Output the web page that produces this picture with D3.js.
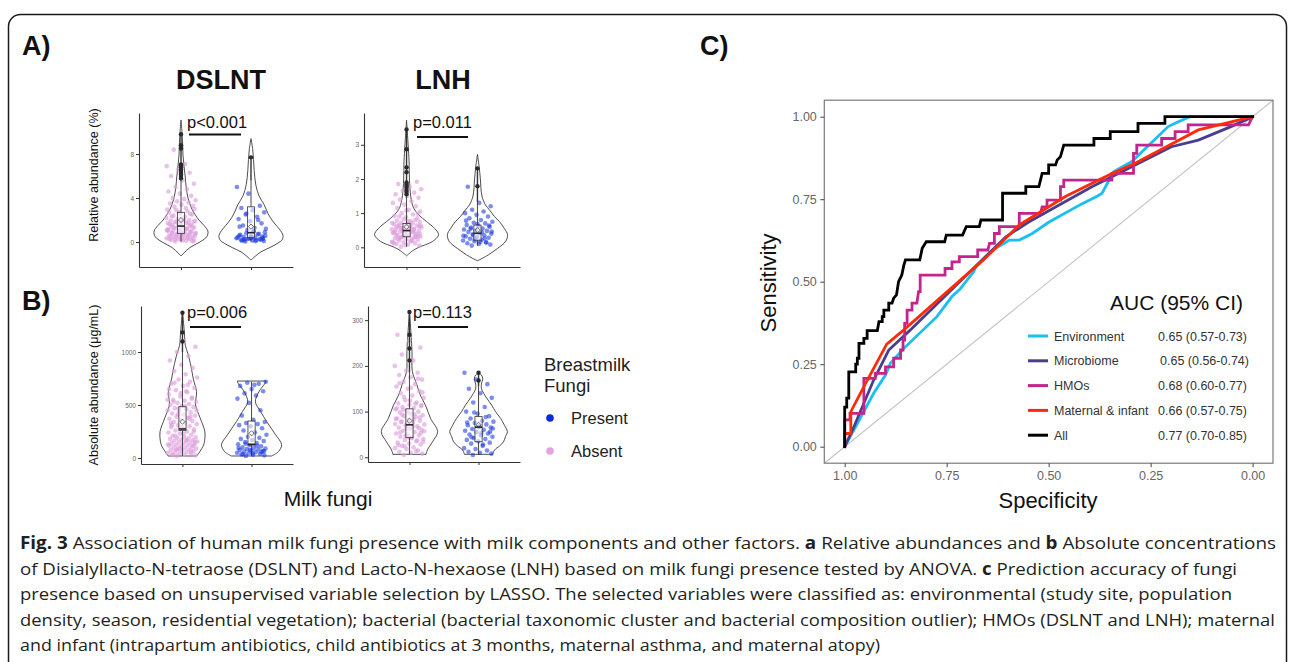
<!DOCTYPE html>
<html><head><meta charset="utf-8">
<script src="https://cdn.jsdelivr.net/npm/d3@7"></script>
<style>body{margin:0;background:#fff}svg{display:block}</style>
</head><body>
<svg id="c" width="1290" height="662"></svg>
<script>
// ---------------- DATA ----------------
const categories = ["Absent","Present"];
const pValues = ["p<0.001","p=0.011","p=0.006","p=0.113"];
const compoundTitles = ["DSLNT","LNH"];

// Relative abundance DSLNT (%)
const relDSLNTTicks = [0,4,8];
const relDSLNTAbsent = [0.05,0.1,0.15,0.2,0.25,0.3,0.35,0.4,0.45,0.5,0.55,0.6,0.65,0.7,0.75,0.8,0.85,0.9,0.95,1.0,
0.12,0.22,0.32,0.42,0.52,0.62,0.72,0.82,0.92,1.02,1.05,1.1,1.15,1.2,1.25,1.3,1.35,1.4,1.45,1.5,
1.12,1.22,1.32,1.42,1.52,1.62,1.72,1.82,1.92,2.02,1.55,1.6,1.65,1.7,1.75,1.8,1.85,1.9,1.95,2.0,
2.1,2.2,2.3,2.4,2.5,2.6,2.7,2.8,2.9,3.0,2.15,2.35,2.55,2.75,2.95,3.1,3.2,3.3,3.4,3.5,
3.6,3.7,3.8,3.9,4.0,4.2,4.4,4.6,4.8,5.0,5.3,5.6,6.0,6.3,6.6,6.9,7.1,8.4,0.08,0.18,
0.28,0.38,0.48,0.58,0.68,0.78,0.88,0.98,1.08,1.18];
const relDSLNTPresent = [0.05,0.1,0.15,0.2,0.25,0.3,0.35,0.4,0.45,0.5,0.55,0.6,0.7,0.8,0.9,1.0,0.12,0.22,0.32,0.42,
0.18,0.28,0.38,0.48,0.65,0.75,1.1,1.2,1.3,1.5,1.7,1.9,2.1,2.3,2.5,2.7,2.9,3.1,3.3,4.4,
5.0,0.08,0.16,0.26,0.36,1.4,2.0,2.6,0.58,0.95];
const relDSLNTAbsViolinV = [11.1,10,9,8,7,6,5,4,3,2.5,2,1.5,1,0.5,0,-0.5,-1,-1.27];
const relDSLNTAbsViolinD = [0,.03,.05,.06,.09,.13,.16,.22,.34,.44,.56,.72,.84,.81,.59,.28,.09,0];
const relDSLNTPreViolinV = [9.4,8.5,7.5,6.5,5.2,4.2,3.4,2.6,1.85,1.2,0.6,0.2,-0.1,-0.5,-0.9,-1.3,-1.64];
const relDSLNTPreViolinD = [0,.05,.08,.1,.15,.25,.41,.53,.69,.88,1,.97,.84,.59,.31,.13,0];
// box stats: [low whisker, Q1, median, Q3, high whisker, mean]
const relDSLNTAbsBox = [0.05,0.79,1.45,2.7,5.6,2.0];
const relDSLNTPreBox = [0.05,0.39,0.85,3.2,5.6,1.4];
const relDSLNTAbsOut = [9.8,8.8,8.5,7.05,6.95,6.8,6.6,6.45,6.3,6.15,6.0,5.8];
const relDSLNTPreOut = [7.7];

// Relative abundance LNH (%)
const relLNHTicks = [0,1,2,3];
const relLNHAbsent = [0.02,0.05,0.08,0.1,0.12,0.14,0.16,0.18,0.2,0.22,0.24,0.26,0.28,0.3,0.32,0.34,0.36,0.38,0.4,0.42,
0.44,0.46,0.48,0.5,0.52,0.54,0.56,0.58,0.6,0.62,0.64,0.66,0.68,0.7,0.72,0.74,0.76,0.78,0.8,0.82,
0.15,0.21,0.27,0.33,0.39,0.45,0.51,0.57,0.63,0.69,0.25,0.31,0.37,0.43,0.49,0.55,0.61,0.67,0.35,0.41,
0.47,0.53,0.59,0.65,0.85,0.88,0.92,0.96,1.0,1.05,1.1,1.15,1.2,1.25,1.3,1.35,1.4,1.45,1.5,1.55,
1.6,1.65,1.7,1.78,1.85,1.92,0.06,0.11,0.19,0.29,0.4,0.5,0.6,0.3,0.45,0.71,0.77,0.9,0.98,1.08];
const relLNHPresent = [0.05,0.08,0.1,0.12,0.15,0.18,0.2,0.22,0.25,0.28,0.3,0.32,0.35,0.38,0.4,0.42,0.45,0.48,0.5,0.52,
0.55,0.58,0.6,0.62,0.65,0.7,0.72,0.75,0.8,0.85,0.9,0.95,1.0,1.05,1.1,1.2,1.3,1.77,0.14,0.24,
0.34,0.44,0.54,0.64,0.68,0.78,0.26,0.36,0.46,0.16];
const relLNHAbsViolinV = [3.72,3,2.5,2,1.5,1.15,0.95,0.75,0.55,0.37,0.17,0,-0.1,-0.25];
const relLNHAbsViolinD = [0,.05,.08,.09,.13,.22,.38,.63,.88,1,.81,.38,.19,0];
const relLNHPreViolinV = [2.72,2.3,2,1.5,1.24,1.09,0.9,0.75,0.55,0.37,0.17,-0.03,-0.22,-0.32,-0.39];
const relLNHPreViolinD = [0,.06,.09,.14,.25,.38,.53,.69,.84,.94,.88,.63,.34,.16,0];
const relLNHAbsBox = [0.02,0.31,0.49,0.70,1.5,0.6];
const relLNHPreBox = [0.05,0.21,0.41,0.65,1.33,0.5];
const relLNHAbsOut = [3.45,2.87,2.34,2.2,1.9,1.85,1.8,1.75,1.68,1.62,1.55];
const relLNHPreOut = [2.31,1.79];

// Absolute abundance DSLNT (ug/mL)
const absDSLNTTicks = [0,500,1000];
const absDSLNTAbsent = [20,25,30,35,40,45,50,55,60,65,70,75,80,85,90,95,100,105,110,115,
120,125,130,135,140,145,150,155,160,165,170,175,180,185,190,195,200,210,220,230,
240,250,260,270,280,290,300,310,320,330,340,350,360,370,380,390,400,410,420,430,
440,450,460,470,480,490,500,510,520,530,540,550,560,580,600,620,640,660,680,700,
720,740,760,790,820,850,880,920,960,1000,1050,1100,30,60,90,130,170,210,250,290,
330,370,410,450,490,530,570,610,650,690,80,150,230,310,390,470,550,630,710,115];
const absDSLNTPresent = [20,25,30,35,40,45,50,55,60,65,70,75,80,85,90,95,100,110,120,130,
140,150,160,170,180,190,200,220,240,260,280,300,310,320,330,340,360,400,450,520,
560,590,610,630,650,680,700,710,720,690,35,55,75,95,115,135,65,45];
const absDSLNTAbsViolinV = [1380,1184,1063,985,860,745,626,500,380,250,185,122,19];
const absDSLNTAbsViolinD = [0,.06,.09,.17,.27,.34,.44,.41,.55,.7,.7,.66,.45];
const absDSLNTPreViolinV = [726,700,625,530,440,345,220,125,60,19];
const absDSLNTPreViolinD = [.45,.41,.23,.12,.28,.47,.75,.94,.84,.63];
const absDSLNTAbsBox = [20,260,274,484,1000,343];
const absDSLNTPreBox = [20,122,129,349,720,233];
const absDSLNTAbsOut = [1370,1185,1100];
const absDSLNTPreOut = [];

// Absolute abundance LNH (ug/mL)
const absLNHTicks = [0,100,200,300];
const absLNHAbsent = [5,8,10,12,15,18,20,22,25,28,30,32,35,38,40,42,45,48,50,52,
55,58,60,62,65,68,70,72,75,78,80,82,85,88,90,92,95,98,100,102,
105,108,110,112,115,118,120,125,130,135,140,145,150,155,160,165,170,175,180,185,
190,200,212,225,240,255,268,14,24,34,44,54,64,74,84,94,104,114,124,27,
37,47,57,67,77,87,97,107,117,132,142,152,162,172,63,73,83,93,53,43];
const absLNHPresent = [5,8,10,12,15,18,20,25,30,32,35,38,40,42,45,48,50,52,55,58,
60,62,65,68,70,72,75,78,80,85,90,95,100,110,120,130,140,150,160,170,
185,28,44,56,66,76,88,98,63,53];
const absLNHAbsViolinV = [320,231,188,159,136,114,85,56,34,16,6.5];
const absLNHAbsViolinD = [0,.08,.09,.23,.34,.5,.66,.88,.72,.56,.52];
const absLNHPreViolinV = [184,180,172,160,150,140,130,114,100,85,70,56,45,34,25,16,6.5];
const absLNHPreViolinD = [0,.09,.13,.09,.09,.16,.25,.41,.53,.69,.81,.9,.84,.78,.66,.5,.44];
const absLNHAbsBox = [6,43,71,106,185,80];
const absLNHPreBox = [5,34,66,89,155,71];
const absLNHAbsOut = [318,268,238,212];
const absLNHPreOut = [185,168];

// ROC curves: false positive rate (1 - specificity) and sensitivity
const rocNames = ["Environment","Microbiome","HMOs","Maternal & infant","All"];
const aucLabels = ["0.65 (0.57-0.73)","0.65 (0.56-0.74)","0.68 (0.60-0.77)","0.66 (0.57-0.75)","0.77 (0.70-0.85)"];
const rocTicks = [0,0.25,0.5,0.75,1];
const envFpr  = [0,0.027,0.071,0.1,0.112,0.145,0.226,0.263,0.283,0.316,0.322,0.363,0.404,0.428,0.46,0.5,0.58,0.62,0.631,0.659,0.704,0.793,0.81,0.846,1];
const envSens = [0,0.061,0.162,0.217,0.253,0.298,0.394,0.455,0.478,0.53,0.545,0.596,0.626,0.626,0.646,0.68,0.735,0.76,0.768,0.833,0.864,0.97,0.98,1,1];
const micFpr  = [0,0.019,0.071,0.108,0.161,0.307,0.395,0.45,0.606,0.655,0.801,0.867,0.947,1];
const micSens = [0,0.05,0.202,0.293,0.354,0.53,0.636,0.68,0.788,0.818,0.909,0.929,0.97,1];
const hmoFpr  = [0,0,0.013,0.013,0.047,0.047,0.075,0.075,0.1,0.1,0.12,0.12,0.137,0.137,0.143,0.143,0.147,0.147,0.153,0.153,0.165,0.165,0.177,0.181,0.185,0.185,0.246,0.246,0.263,0.263,0.281,0.281,0.326,0.326,0.351,0.355,0.367,0.367,0.379,0.379,0.428,0.428,0.48,0.484,0.496,0.496,0.529,0.529,0.537,0.537,0.655,0.655,0.708,0.708,0.716,0.716,0.777,0.777,0.81,0.81,0.842,0.842,0.99,1];
const hmoSens = [0,0.081,0.081,0.101,0.101,0.207,0.207,0.222,0.222,0.242,0.242,0.268,0.268,0.293,0.293,0.323,0.323,0.374,0.374,0.414,0.414,0.435,0.435,0.47,0.47,0.52,0.52,0.54,0.54,0.56,0.56,0.576,0.576,0.596,0.596,0.616,0.616,0.646,0.646,0.667,0.667,0.707,0.707,0.727,0.727,0.747,0.747,0.788,0.788,0.808,0.808,0.828,0.828,0.889,0.889,0.914,0.914,0.934,0.934,0.955,0.955,0.975,0.975,1];
const matFpr  = [0,0,0.015,0.015,0.047,0.103,0.145,0.34,0.428,0.541,0.655,0.712,0.867,1];
const matSens = [0,0.04,0.04,0.106,0.182,0.311,0.354,0.566,0.672,0.758,0.828,0.859,0.96,1];
const allFpr  = [0,0,0.005,0.005,0.01,0.01,0.027,0.027,0.031,0.031,0.035,0.035,0.047,0.047,0.055,0.055,0.08,0.084,0.092,0.092,0.096,0.096,0.108,0.108,0.116,0.12,0.127,0.132,0.14,0.145,0.149,0.184,0.19,0.2,0.245,0.249,0.289,0.298,0.33,0.334,0.387,0.387,0.444,0.444,0.476,0.48,0.484,0.5,0.5,0.517,0.521,0.529,0.537,0.611,0.611,0.651,0.651,0.719,0.719,0.785,0.785,1];
const allSens = [0,0.12,0.12,0.147,0.147,0.227,0.227,0.25,0.25,0.268,0.268,0.313,0.313,0.328,0.328,0.352,0.352,0.379,0.379,0.394,0.394,0.414,0.414,0.435,0.435,0.45,0.46,0.5,0.52,0.55,0.566,0.566,0.601,0.621,0.621,0.641,0.641,0.667,0.667,0.687,0.687,0.768,0.768,0.788,0.788,0.808,0.828,0.828,0.854,0.854,0.869,0.879,0.914,0.914,0.934,0.934,0.955,0.955,0.98,0.98,1,1];

const captionLines = [
 [["Fig. 3",1],[" Association of human milk fungi presence with milk components and other factors. ",0],["a",1],[" Relative abundances and ",0],["b",1],[" Absolute concentrations",0]],
 [["of Disialyllacto-N-tetraose (DSLNT) and Lacto-N-hexaose (LNH) based on milk fungi presence tested by ANOVA. ",0],["c",1],[" Prediction accuracy of fungi",0]],
 [["presence based on unsupervised variable selection by LASSO. The selected variables were classified as: environmental (study site, population",0]],
 [["density, season, residential vegetation); bacterial (bacterial taxonomic cluster and bacterial composition outlier); HMOs (DSLNT and LNH); maternal",0]],
 [["and infant (intrapartum antibiotics, child antibiotics at 3 months, maternal asthma, and maternal atopy)",0]]
];

// ---------------- DRAW ----------------
const FONT = "'Liberation Sans', Arial, sans-serif";
const svg = d3.select("#c");
const colAbsent = "#DDA0DD", colPresent = "#1030E0";

svg.append("rect").attr("x",8.5).attr("y",14.5).attr("width",1278).attr("height",700).attr("rx",12)
  .attr("fill","none").attr("stroke","#1a1a1a").attr("stroke-width",1.5);

function label(t,x,y,size,weight,anchor,fill){
  return svg.append("text").attr("x",x).attr("y",y).attr("font-family",FONT).attr("font-size",size)
    .attr("font-weight",weight||"normal").attr("text-anchor",anchor||"start").attr("fill",fill||"#111").text(t);
}
label("A)",22,55,27,"bold");
label("B)",22,310,27,"bold");
label("C)",700,55,27,"bold");
label(compoundTitles[0],221,89,27,"bold","middle");
label(compoundTitles[1],443,89,27,"bold","middle");

const panels = [
 {x:[139,293], y:[267,113], dom:[-2.27,11.73], ticks:relDSLNTTicks, pts:[relDSLNTAbsent,relDSLNTPresent],
  vio:[[relDSLNTAbsViolinV,relDSLNTAbsViolinD],[relDSLNTPreViolinV,relDSLNTPreViolinD]],
  box:[relDSLNTAbsBox,relDSLNTPreBox], out:[relDSLNTAbsOut,relDSLNTPreOut], p:pValues[0], pt:[187,128], pl:[189,241,134.5]},
 {x:[364,520], y:[267,113], dom:[-0.576,3.93], ticks:relLNHTicks, pts:[relLNHAbsent,relLNHPresent],
  vio:[[relLNHAbsViolinV,relLNHAbsViolinD],[relLNHPreViolinV,relLNHPreViolinD]],
  box:[relLNHAbsBox,relLNHPreBox], out:[relLNHAbsOut,relLNHPreOut], p:pValues[1], pt:[413,128], pl:[417,468,137]},
 {x:[141,293], y:[464,306], dom:[-56.6,1434], ticks:absDSLNTTicks, pts:[absDSLNTAbsent,absDSLNTPresent],
  vio:[[absDSLNTAbsViolinV,absDSLNTAbsViolinD],[absDSLNTPreViolinV,absDSLNTPreViolinD]],
  box:[absDSLNTAbsBox,absDSLNTPreBox], out:[absDSLNTAbsOut,absDSLNTPreOut], p:pValues[2], pt:[187,318], pl:[190,241,327]},
 {x:[368,520], y:[462,306], dom:[-10.3,331], ticks:absLNHTicks, pts:[absLNHAbsent,absLNHPresent],
  vio:[[absLNHAbsViolinV,absLNHAbsViolinD],[absLNHPreViolinV,absLNHPreViolinD]],
  box:[absLNHAbsBox,absLNHPreBox], out:[absLNHAbsOut,absLNHPreOut], p:pValues[3], pt:[413,318], pl:[418,468,327]}
];
const wScale = d3.scaleLinear().domain([0,1]).range([0,32]);

panels.forEach(P=>{
  const g = svg.append("g");
  const y = d3.scaleLinear().domain(P.dom).range(P.y);
  const x = d3.scalePoint().domain(categories).range(P.x).padding(0.6);
  // violins
  categories.forEach((c,ci)=>{
    const cx = x(c);
    const pts = P.vio[ci][0].map((v,i)=>({v, d:P.vio[ci][1][i]}));
    const area = d3.area().y(p=>y(p.v)).x0(p=>cx-wScale(p.d)).x1(p=>cx+wScale(p.d)).curve(d3.curveCatmullRom);
    g.append("path").attr("d",area(pts)).attr("fill","none").attr("stroke","#3a3a3a").attr("stroke-width",0.9);
  });
  // jittered points
  categories.forEach((c,ci)=>{
    const cx = x(c);
    g.selectAll(null).data(P.pts[ci]).join("circle")
      .attr("cx",(d,i)=>cx + ((((i*0.618034+0.31)%1)*2)-1)*15)
      .attr("cy",d=>y(d)).attr("r",2.3)
      .attr("fill",ci===0?colAbsent:colPresent).attr("fill-opacity",ci===0?0.65:0.55);
  });
  // boxes
  categories.forEach((c,ci)=>{
    const cx = x(c), b = P.box[ci], hw = 3.6;
    g.append("line").attr("x1",cx).attr("x2",cx).attr("y1",y(b[3])).attr("y2",y(b[4])).attr("stroke","#333").attr("stroke-width",0.9);
    g.append("line").attr("x1",cx).attr("x2",cx).attr("y1",y(b[1])).attr("y2",y(b[0])).attr("stroke","#333").attr("stroke-width",0.9);
    g.append("rect").attr("x",cx-hw).attr("width",hw*2).attr("y",y(b[3])).attr("height",y(b[1])-y(b[3]))
      .attr("fill","#fff").attr("fill-opacity",0.55).attr("stroke","#333").attr("stroke-width",0.8);
    g.append("line").attr("x1",cx-hw).attr("x2",cx+hw).attr("y1",y(b[2])).attr("y2",y(b[2])).attr("stroke","#222").attr("stroke-width",1.6);
    const my = y(b[5]);
    g.append("path").attr("d",`M${cx},${my-2.6}L${cx+2.6},${my}L${cx},${my+2.6}L${cx-2.6},${my}Z`)
      .attr("fill","none").attr("stroke","#333").attr("stroke-width",0.7);
    if(P.out[ci].length){
      const top = d3.max(P.out[ci]);
      g.append("line").attr("x1",cx).attr("x2",cx).attr("y1",y(b[4])).attr("y2",y(top)).attr("stroke","#333").attr("stroke-width",1.4);
    }
    g.selectAll(null).data(P.out[ci]).join("circle").attr("cx",cx).attr("cy",d=>y(d)).attr("r",2.2).attr("fill","#2a2a2a");
  });
  // axes
  const ya = g.append("g").attr("transform",`translate(${P.x[0]},0)`)
    .call(d3.axisLeft(y).tickValues(P.ticks).tickFormat(d=>String(d)).tickSize(3).tickPadding(2).tickSizeOuter(0));
  const xa = g.append("g").attr("transform",`translate(0,${P.y[0]})`)
    .call(d3.axisBottom(x).tickSize(3).tickFormat(()=>"").tickSizeOuter(0));
  [ya,xa].forEach(a=>{
    a.select(".domain").attr("stroke","#333").attr("stroke-width",1.1);
    a.selectAll(".tick line").attr("stroke","#333");
    a.selectAll("text").attr("font-family",FONT).attr("font-size",6.5).attr("fill","#666");
  });
  // p-value annotation
  svg.append("text").attr("x",P.pt[0]).attr("y",P.pt[1]).attr("font-family",FONT).attr("font-size",16.5).attr("fill","#111").text(P.p);
  svg.append("line").attr("x1",P.pl[0]).attr("x2",P.pl[1]).attr("y1",P.pl[2]).attr("y2",P.pl[2]).attr("stroke","#111").attr("stroke-width",1.8);
});

// y-axis titles
svg.append("text").attr("transform","translate(98,175) rotate(-90)").attr("text-anchor","middle")
  .attr("font-family",FONT).attr("font-size",12.5).attr("fill","#111").text("Relative abundance (%)");
svg.append("text").attr("transform","translate(98,385) rotate(-90)").attr("text-anchor","middle")
  .attr("font-family",FONT).attr("font-size",12.5).attr("fill","#111").text("Absolute abundance (μg/mL)");
label("Milk fungi",328,506,21,"normal","middle","#111");

// legend for fungi
label("Breastmilk",544,371,18.5,"normal","start","#222");
label("Fungi",544,392,18.5,"normal","start","#222");
const legendItems = [["Present",colPresent,418],["Absent",colAbsent,451]];
legendItems.forEach(([t,c,yy],i)=>{
  svg.append("circle").attr("cx",550).attr("cy",yy).attr("r",3.8).attr("fill",i===0?"#0a2ad9":"#e3a3e3");
  label(t,571,yy+6,16.5,"normal","start","#222");
});

// ---------------- ROC ----------------
const xR = d3.scaleLinear().domain([1.05,-0.05]).range([824.3,1273]);
const yR = d3.scaleLinear().domain([-0.05,1.05]).range([463.2,100.2]);
const rg = svg.append("g");
rg.append("clipPath").attr("id","rc").append("rect").attr("x",824.3).attr("y",100.2).attr("width",1273-824.3).attr("height",463.2-100.2);
rg.append("line").attr("clip-path","url(#rc)").attr("x1",xR(1.05)).attr("y1",yR(-0.05)).attr("x2",xR(-0.05)).attr("y2",yR(1.05))
  .attr("stroke","#c4c4c4").attr("stroke-width",1.1);
const rocColors = ["#1ABFF2","#4A3D8F","#C3258F","#FF2A0A","#000000"];
const rocData = [[envFpr,envSens],[micFpr,micSens],[hmoFpr,hmoSens],[matFpr,matSens],[allFpr,allSens]];
const line = d3.line().x(d=>xR(1-d[0])).y(d=>yR(d[1]));
rocData.forEach(([f,s],i)=>{
  rg.append("path").attr("d",line(f.map((v,j)=>[v,s[j]]))).attr("fill","none").attr("stroke",rocColors[i])
    .attr("stroke-width",2.8).attr("stroke-linejoin","miter").attr("stroke-linecap","square");
});
rg.append("rect").attr("x",824.3).attr("y",100.2).attr("width",1273-824.3).attr("height",463.2-100.2)
  .attr("fill","none").attr("stroke","#7a7a7a").attr("stroke-width",1.2);
const rya = rg.append("g").attr("transform","translate(824.3,0)")
  .call(d3.axisLeft(yR).tickValues(rocTicks).tickFormat(d3.format(".2f")).tickSize(4).tickPadding(3.5));
const rxa = rg.append("g").attr("transform","translate(0,463.2)")
  .call(d3.axisBottom(xR).tickValues(rocTicks).tickFormat(d3.format(".2f")).tickSize(4).tickPadding(4));
[rya,rxa].forEach(a=>{
  a.select(".domain").remove();
  a.selectAll(".tick line").attr("stroke","#444");
  a.selectAll("text").attr("font-family",FONT).attr("font-size",12.5).attr("fill","#666");
});
svg.append("text").attr("transform","translate(776,283) rotate(-90)").attr("text-anchor","middle")
  .attr("font-family",FONT).attr("font-size",22).attr("fill","#111").text("Sensitivity");
label("Specificity",1048,508,22,"normal","middle","#111");
label("AUC (95% CI)",1110,310,21,"normal","start","#111");
rocNames.forEach((n,i)=>{
  const yy = 336 + i*24.8;
  svg.append("line").attr("x1",1028).attr("x2",1048).attr("y1",yy).attr("y2",yy).attr("stroke",rocColors[i]).attr("stroke-width",3);
  label(n,1054,yy+4.5,12.5,"normal","start","#333");
  label(aucLabels[i],i===1?1160:1158,yy+4.5,12.5,"normal","start","#333");
});

// ---------------- CAPTION ----------------
const capWidths = [1256,1217,1212,1255,860];
captionLines.forEach((parts,i)=>{
  const t = svg.append("text").attr("x",20).attr("y",549+i*25.6).attr("font-family","'Open Sans', 'Noto Sans', sans-serif")
    .attr("font-size",17).attr("fill","#231f20").attr("textLength",capWidths[i]).attr("lengthAdjust","spacingAndGlyphs");
  parts.forEach(([s,b])=>t.append("tspan").attr("font-weight",b?"bold":"normal").text(s));
});
</script>
</body></html>
